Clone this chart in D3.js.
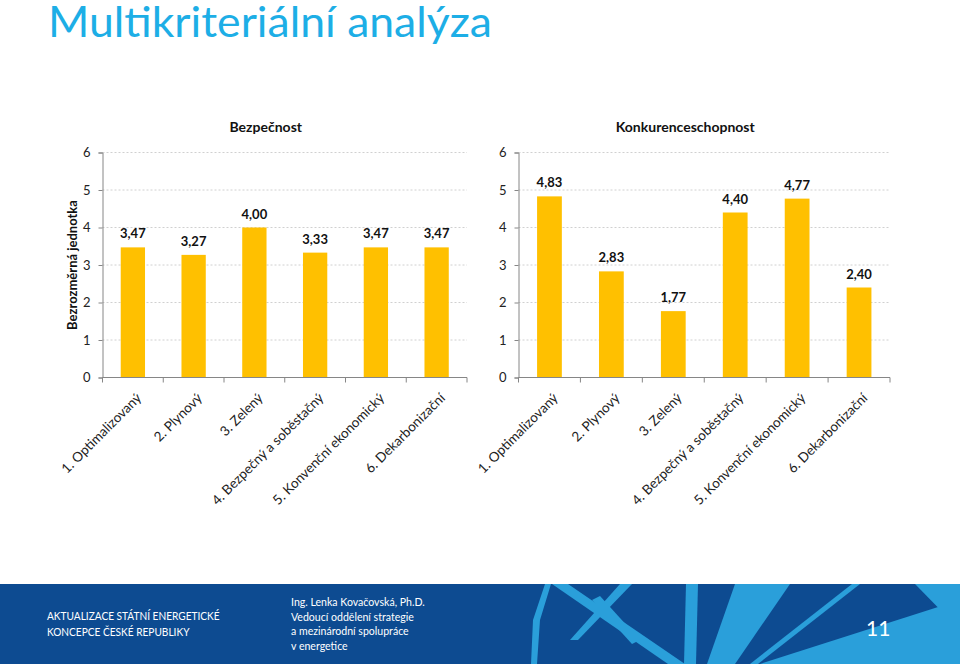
<!DOCTYPE html>
<html><head><meta charset="utf-8">
<script src="https://d3js.org/d3.v7.min.js"></script>
<style>
html,body{margin:0;padding:0;background:#fff;}
svg{display:block;}
text{font-family:Lato,"Open Sans",sans-serif;}
</style></head>
<body>
<svg id="c" width="960" height="664"></svg>
<script>
const categories = ["1. Optimalizovaný","2. Plynový","3. Zelený","4. Bezpečný a soběstačný","5. Konvenční ekonomický","6. Dekarbonizační"];
const bezpecnost = [3.47,3.27,4.00,3.33,3.47,3.47];
const konkurenceschopnost = [4.83,2.83,1.77,4.40,4.77,2.40];
const yTicks = [0,1,2,3,4,5,6];
const chartTitles = ["Bezpečnost","Konkurenceschopnost"];
const yAxisTitle = "Bezrozměrná jednotka";
const pageTitle = "Multikriteriální analýza";
const footerLeft = ["AKTUALIZACE STÁTNÍ ENERGETICKÉ","KONCEPCE ČESKÉ REPUBLIKY"];
const footerMid = ["Ing. Lenka Kovačovská, Ph.D.","Vedoucí oddělení strategie","a mezinárodní spolupráce","v energetice"];
const pageNumber = "11";

const svg = d3.select("#c");
const fmt = v => d3.format(".2f")(v).replace(".", ",");

// page title
svg.append("text").attr("x",48).attr("y",37)
  .attr("font-size",43).attr("fill","#1DAEE6")
  .attr("textLength",444).attr("lengthAdjust","spacingAndGlyphs").text(pageTitle);

function drawChart(x0, x1, values, title, showYTitle){
  const y = d3.scaleLinear().domain([0,6]).range([377.5,152.5]);
  const x = d3.scaleBand().domain(categories).range([x0,x1]).paddingInner(0.6).paddingOuter(0.3);
  const g = svg.append("g");
  g.selectAll(".grid").data(yTicks.filter(d=>d>0)).join("line")
    .attr("x1",x0).attr("x2",x1).attr("y1",d=>y(d)).attr("y2",d=>y(d))
    .attr("stroke","#d0d0d0").attr("stroke-width",1).attr("stroke-dasharray","2,2");
  const ya = g.append("g").attr("transform",`translate(${x0},0)`)
    .call(d3.axisLeft(y).tickValues(yTicks).tickSize(4).tickPadding(8).tickFormat(d3.format("d")));
  ya.select(".domain").attr("stroke","#868686");
  ya.selectAll(".tick line").attr("stroke","#868686");
  ya.selectAll("text").attr("font-size",13).attr("fill","#222").attr("font-family","Lato,sans-serif");
  g.selectAll(".bar").data(values).join("rect")
    .attr("x",(d,i)=>x(categories[i])).attr("width",x.bandwidth())
    .attr("y",d=>y(d)).attr("height",d=>y(0)-y(d)).attr("fill","#FFC000");
  g.selectAll(".val").data(values).join("text")
    .attr("x",(d,i)=>x(categories[i])+x.bandwidth()/2).attr("y",d=>y(d)-9)
    .attr("text-anchor","middle").attr("font-size",13).attr("font-weight","bold").attr("fill","#111")
    .text(d=>fmt(d));
  const xb = d3.scaleBand().domain(categories).range([x0,x1]);
  const xa = g.append("g").attr("transform",`translate(0,${y(0)})`);
  xa.append("line").attr("x1",x0).attr("x2",x1).attr("stroke","#868686");
  xa.selectAll(".tk").data(categories.concat(["end"])).join("line")
    .attr("x1",(d,i)=> i<categories.length ? xb(d) : x1)
    .attr("x2",(d,i)=> i<categories.length ? xb(d) : x1)
    .attr("y1",0).attr("y2",5).attr("stroke","#868686");
  xa.selectAll(".lbl").data(categories).join("text")
    .attr("transform",d=>`translate(${xb(d)+xb.bandwidth()/2+6},${18}) rotate(-45)`)
    .attr("text-anchor","end").attr("dy","0.35em").attr("font-size",13.5).attr("fill","#222")
    .text(d=>d);
  svg.append("text").attr("x",(x0+x1)/2-19).attr("y",132).attr("text-anchor","middle")
    .attr("font-size",14).attr("font-weight","bold").attr("fill","#111").text(title);
  if(showYTitle){
    svg.append("text").attr("transform",`translate(77,265) rotate(-90)`).attr("text-anchor","middle")
      .attr("font-size",13).attr("font-weight","bold").attr("fill","#111").text(yAxisTitle);
  }
}
drawChart(102.5,467,bezpecnost,chartTitles[0],true);
drawChart(518.5,890,konkurenceschopnost,chartTitles[1],false);

// footer
const f = svg.append("g");
f.append("rect").attr("x",0).attr("y",584).attr("width",960).attr("height",80).attr("fill","#0D4B91");
const lb = "#2A9FDA";
const polys = [
  [[545,584],[551,584],[540,620],[537,664],[531,664],[533,620]],
  [[552,584],[568,584],[685,664],[668,664]],
  [[620,584],[632,584],[578,640],[570,640]],
  [[686,584],[698,584],[696,664],[684,664]],
  [[735,584],[790,584],[735,664],[707,664]],
  [[852,584],[860,584],[758,664],[750,664]],
  [[760,664],[960,600],[960,664]],
  [[915,584],[960,584],[960,630]],
  [[592,600],[600,596],[640,640],[632,644]]
];
f.selectAll("polygon").data(polys).join("polygon")
  .attr("points",d=>d.map(p=>p.join(",")).join(" ")).attr("fill",lb);
const fl = f.append("g").attr("transform","translate(47,0) scale(0.88,1)");
fl.selectAll("text").data(footerLeft).join("text")
  .attr("x",0).attr("y",(d,i)=>620+i*16).attr("font-size",11.5).attr("fill","#fff").text(d=>d);
const fm = f.append("g").attr("transform","translate(291,0) scale(0.92,1)");
fm.selectAll("text").data(footerMid).join("text")
  .attr("x",0).attr("y",(d,i)=>606+i*14.7).attr("font-size",11.5).attr("fill","#fff").text(d=>d);
f.append("text").attr("x",866).attr("y",636).attr("font-size",21).attr("fill","#fff").text(pageNumber);
</script>
</body></html>
